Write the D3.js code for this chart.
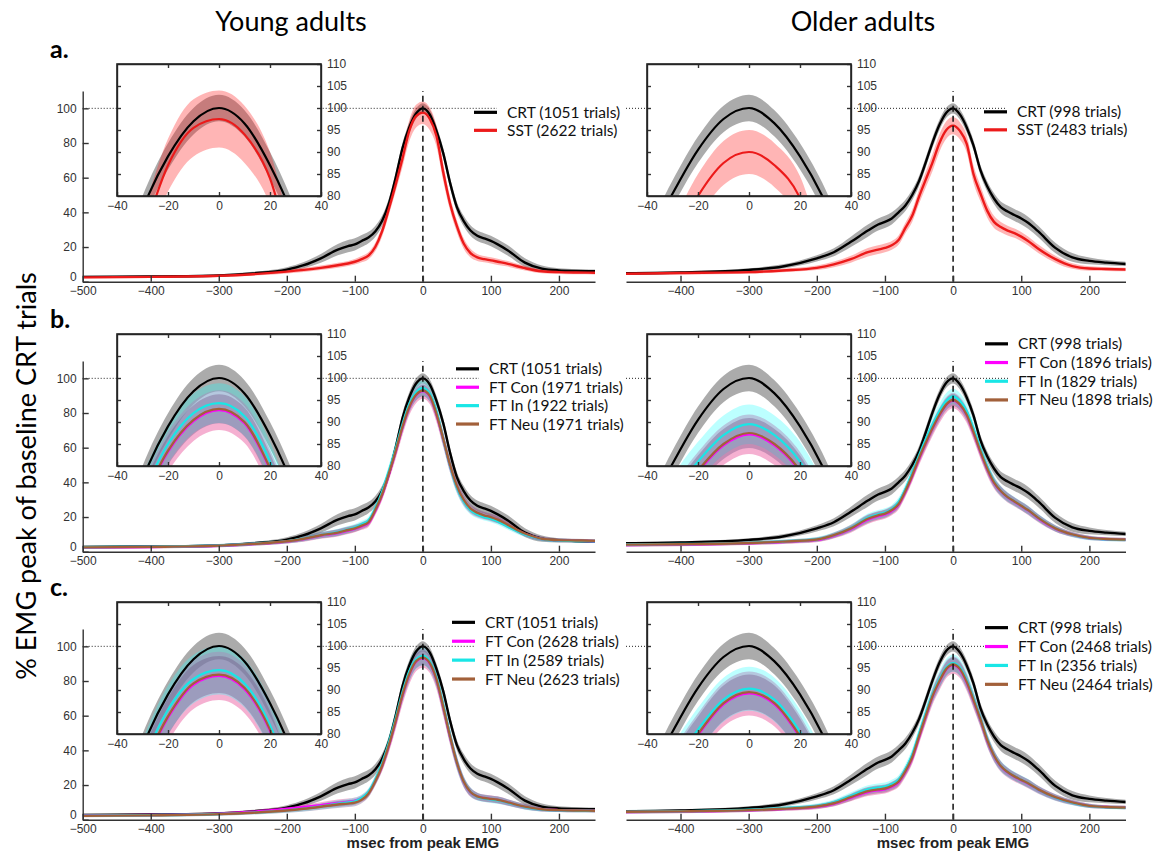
<!DOCTYPE html>
<html>
<head>
<meta charset="utf-8">
<script src="https://cdn.jsdelivr.net/npm/d3@7"></script>
<style>
  body { margin: 0; background: #fff; }
  svg { display: block; }
</style>
</head>
<body>
<svg id="chart" width="1158" height="852"></svg>
<script>
// ── Time grid (msec from peak EMG) ──────────────────────────────────────────
var T = [-500, -400, -300, -250, -200, -175, -150, -125, -110, -100, -90, -80, -70, -60, -50, -40, -30, -20, -10, 0,
         10, 20, 30, 40, 50, 60, 70, 80, 90, 100, 110, 125, 150, 175, 200, 225, 255];

// ── CRT baseline (same in all three rows) ───────────────────────────────────
var crtYoung = [2.8, 3.0, 3.6, 4.8, 7.0, 9.5, 13.5, 18.5, 20.5, 21.5, 23.5, 25.5, 29, 35, 45, 60, 77, 89, 97, 100,
                96.5, 87, 74, 57, 43, 35, 29.5, 26.5, 25, 23.5, 21.5, 18, 11, 7.5, 6.5, 6.2, 6.0];
var ciCrtYoung = [0.6, 0.6, 0.7, 0.9, 1.3, 1.8, 2.5, 3.2, 3.5, 3.5, 3.5, 3.3, 3.2, 3, 3, 3, 3, 3, 3, 3,
                  3, 3, 3, 3, 3, 3, 3, 3, 3, 3, 3, 3, 2.5, 1.8, 1.2, 1, 1];
var crtOld = [4.8, 5.3, 6.8, 8.8, 13.5, 17, 23, 29.5, 33, 34.5, 36.5, 40, 44, 50, 58, 69, 80.5, 90.5, 97.5, 100,
              96.5, 89, 78.5, 64.5, 55, 48, 43, 40.5, 38.5, 36.5, 34, 29, 19.5, 14, 12, 11, 10.2];
var ciCrtOld = [0.8, 0.8, 1, 1.2, 1.8, 2.3, 3, 3.5, 3.5, 3.5, 3.5, 3.3, 3.2, 3, 3, 3, 3, 3, 3, 3,
                3, 3, 3, 3, 3, 3.2, 3.3, 3.5, 3.5, 3.5, 3.5, 3.3, 3, 2.5, 2, 1.5, 1.2];

// ── Row a: SST ──────────────────────────────────────────────────────────────
var sstYoung = [2.5, 2.8, 3.4, 4.3, 5.8, 6.8, 8, 9.5, 10.5, 11.5, 13, 15, 20, 29, 42, 56, 71, 87, 95.5, 97.5,
                94, 84, 63, 45, 32, 22, 16.5, 14, 13, 12.3, 11.5, 10.3, 7.8, 6, 5.5, 5.3, 5.2];
var ciSstYoung = [0.6, 0.6, 0.7, 0.8, 1, 1.2, 1.3, 1.5, 1.5, 1.6, 1.8, 2, 2.5, 3, 3.5, 4, 5, 6, 6.5, 6.5,
                  6.5, 6, 5, 4, 3.5, 3, 2.5, 2, 1.8, 1.8, 1.8, 1.6, 1.3, 1.1, 1, 1, 1];
var sstOld = [4.5, 5, 5.5, 6.5, 8, 10, 13, 17, 18.5, 19.5, 21, 24, 31, 38, 49, 59, 69, 80, 87.5, 90,
              87, 79.5, 62, 51, 41, 34.5, 31.5, 29.5, 28, 26, 23.5, 19, 13, 9, 7.6, 7.3, 7];
var ciSstOld = [0.8, 0.8, 0.9, 1, 1.3, 1.6, 2, 2.5, 2.5, 2.5, 2.5, 2.7, 3, 3.5, 4, 4.5, 5, 5, 5, 5,
                5, 5, 5, 4.5, 4, 3.5, 3, 2.8, 2.7, 2.7, 2.6, 2.4, 2, 1.6, 1.3, 1.1, 1];

// ── Row b: FT (young) ───────────────────────────────────────────────────────
var ftConYoungB = [2.4, 2.7, 3.4, 4.4, 5.9, 7.3, 9.3, 10.8, 12.2, 13.2, 14.6, 16.5, 23.5, 32.5, 44.5, 57.5, 71.7, 83.2, 90.2, 92.7,
                   89.7, 79.2, 64.7, 49.5, 37.5, 29.5, 24.5, 22, 20.6, 19.6, 18.2, 15.2, 10.3, 7.4, 6.5, 6.3, 6];
var ftInYoungB = [2.6, 2.9, 3.6, 4.6, 6.1, 7.6, 9.6, 11.2, 12.8, 14, 15.8, 18, 25, 34.5, 46.5, 59.5, 73.5, 85, 92, 94.3,
                  91.3, 81, 65, 49.5, 37, 29, 24, 21.5, 20, 19, 17.5, 14.5, 10, 7.3, 6.4, 6.2, 6];
var ftNeuYoungB = [2.5, 2.8, 3.5, 4.5, 6, 7.5, 9.5, 11, 12.5, 13.5, 15, 17, 24, 33, 45, 58, 72, 83.5, 90.5, 93,
                   90, 79.5, 65, 50, 38, 30, 25, 22.5, 21, 20, 18.5, 15.5, 10.5, 7.5, 6.7, 6.5, 6.2];
var ciFtYoungB = [0.8, 0.8, 0.9, 1, 1.2, 1.5, 1.8, 2, 2, 2, 2, 2.2, 2.5, 3, 3.5, 4, 4.5, 4.5, 4.5, 4.5,
                  4.5, 4.5, 4.5, 4, 3.5, 3, 2.5, 2.2, 2, 2, 2, 1.8, 1.5, 1.2, 1, 1, 1];
var ciFtNeuYoungB = [0.8, 0.8, 0.9, 1, 1.2, 1.5, 1.8, 2, 2, 2, 2, 2.1, 2.3, 2.6, 2.9, 3.1, 3.3, 3.3, 3.3, 3.3,
                     3.3, 3.3, 3.3, 3.1, 2.9, 2.6, 2.3, 2.1, 2, 2, 2, 1.8, 1.5, 1.2, 1, 1, 1];

// ── Row b: FT (older) ───────────────────────────────────────────────────────
var ftConOldB = [3.8, 4.1, 4.8, 5.6, 6.8, 9.2, 13, 18.5, 20.5, 21.5, 23.5, 27, 34.5, 43.5, 53.5, 62.7, 71.2, 78.7, 84.7, 87.2,
                 84.7, 78.7, 68.7, 57.7, 47.7, 39.7, 34.7, 31.2, 28.7, 26.2, 23.7, 19.2, 13.3, 9.9, 7.9, 7.2, 6.9];
var ftInOldB = [4.1, 4.4, 5.1, 5.9, 7.2, 9.6, 13.6, 19.5, 21.5, 22.5, 24.5, 28.5, 36, 45.5, 55.5, 65, 73.5, 81, 87, 89.5,
                87, 81, 71, 59.5, 49, 40.5, 35, 31.5, 29, 26.5, 24, 19.5, 13.5, 9.8, 7.8, 7.1, 6.8];
var ftNeuOldB = [4, 4.3, 5, 5.8, 7, 9.5, 13.5, 19, 21, 22, 24, 27.5, 35, 44, 54, 63, 71.5, 79, 85, 87.5,
                 85, 79, 69, 58, 48, 40, 35, 31.5, 29, 26.5, 24, 19.5, 13.5, 10, 8, 7.3, 7];
var ciFtOldB = [1, 1, 1, 1.1, 1.3, 1.6, 2, 2.5, 2.5, 2.5, 2.5, 2.7, 3, 3.3, 3.7, 4, 4.3, 4.5, 4.5, 4.5,
                4.5, 4.5, 4.3, 4, 3.7, 3.3, 3, 2.8, 2.6, 2.5, 2.5, 2.2, 1.8, 1.4, 1.2, 1, 1];
var ciFtNeuOldB = [1, 1, 1, 1.1, 1.3, 1.6, 2, 2.4, 2.4, 2.4, 2.4, 2.5, 2.6, 2.8, 3, 3.2, 3.3, 3.4, 3.4, 3.4,
                   3.4, 3.4, 3.3, 3.2, 3, 2.8, 2.6, 2.5, 2.4, 2.4, 2.4, 2.1, 1.8, 1.4, 1.2, 1, 1];

// ── Row c: FT (young) ───────────────────────────────────────────────────────
var ftConYoungC = [2.4, 2.7, 3.5, 4.6, 6.3, 7.3, 8.4, 9.6, 10.2, 10.8, 12.3, 15.5, 22.5, 31, 42.8, 56.7, 71.7, 83.7, 91.2, 93.2,
                   90.2, 80.7, 64.7, 47.7, 32.8, 21.8, 15.8, 13.4, 12.4, 11.9, 11.4, 9.9, 7.4, 6, 5.5, 5.3, 5.2];
var ftInYoungC = [2.3, 2.6, 3.3, 4.1, 5.4, 6.4, 7.7, 9.2, 10, 10.6, 12.5, 16, 23, 32.5, 44.5, 58.5, 73.5, 85.5, 92.5, 94.5,
                  91.5, 82, 66, 48.5, 33, 22, 16, 13.3, 12.2, 11.7, 11.2, 9.8, 7.3, 5.9, 5.4, 5.2, 5.1];
var ftNeuYoungC = [2.2, 2.5, 3.2, 4, 5.3, 6.3, 7.5, 8.8, 9.3, 9.8, 11.5, 15, 22, 31, 43, 57, 72, 84, 91.5, 93.5,
                   90.5, 81, 65, 48, 33, 22, 16, 13.5, 12.5, 12, 11.5, 10, 7.5, 6, 5.5, 5.3, 5.2];
var ciFtYoungC = [0.8, 0.8, 0.9, 1, 1.3, 1.5, 1.7, 2, 2, 2, 2, 2.2, 2.6, 3.2, 4, 4.6, 5.2, 5.5, 5.5, 5.5,
                  5.5, 5.5, 5.2, 4.6, 4, 3.2, 2.6, 2.2, 2, 2, 2, 1.8, 1.5, 1.2, 1, 1, 1];
var ciFtNeuYoungC = [0.8, 0.8, 0.9, 1, 1.3, 1.5, 1.7, 2, 2, 2, 2, 2.1, 2.4, 2.8, 3.3, 3.7, 4, 4.2, 4.2, 4.2,
                     4.2, 4.2, 4, 3.7, 3.3, 2.8, 2.4, 2.1, 2, 2, 2, 1.8, 1.5, 1.2, 1, 1, 1];

// ── Row c: FT (older) ───────────────────────────────────────────────────────
var ftConOldC = [4.4, 4.7, 5.4, 6.2, 7.4, 9.2, 12.6, 16, 17, 17.5, 19, 21.5, 27.5, 35.5, 47.5, 59.7, 71.2, 79.7, 86.7, 89.2,
                 86.7, 79.2, 68.7, 57.7, 45.7, 36.7, 30.7, 27.2, 24.7, 22.7, 20.7, 17.2, 12.8, 9.9, 8, 7.3, 7];
var ftInOldC = [4.6, 4.9, 5.7, 6.6, 8, 10, 13.8, 17.5, 18.5, 19, 20.5, 23, 29, 37.5, 49.5, 61.5, 72.5, 81, 87.8, 90.3,
                87.8, 80.5, 70, 58.5, 46.5, 37, 31, 27.5, 25, 23, 21, 17.3, 12.7, 9.8, 7.9, 7.2, 6.9];
var ftNeuOldC = [4.5, 4.8, 5.5, 6.3, 7.6, 9.5, 13, 16.5, 17.5, 18, 19.5, 22, 28, 36, 48, 60, 71.5, 80, 87, 89.5,
                 87, 79.5, 69, 58, 46, 37, 31, 27.5, 25, 23, 21, 17.5, 13, 10, 8, 7.3, 7];
var ciFtOldC = [1, 1, 1, 1.1, 1.3, 1.6, 2, 2.4, 2.4, 2.4, 2.5, 2.7, 3, 3.4, 3.8, 4.3, 4.7, 5, 5, 5,
                5, 5, 4.7, 4.3, 3.8, 3.4, 3, 2.8, 2.6, 2.5, 2.5, 2.2, 1.8, 1.4, 1.2, 1, 1];
var ciFtNeuOldC = [1, 1, 1, 1.1, 1.3, 1.6, 2, 2.3, 2.3, 2.3, 2.4, 2.5, 2.7, 3, 3.3, 3.6, 3.8, 4, 4, 4,
                   4, 4, 3.8, 3.6, 3.3, 3, 2.7, 2.5, 2.4, 2.4, 2.4, 2.1, 1.8, 1.4, 1.2, 1, 1];

// ── Legend labels ───────────────────────────────────────────────────────────
var legendAYoung = ["CRT (1051 trials)", "SST (2622 trials)"];
var legendAOld   = ["CRT (998 trials)", "SST (2483 trials)"];
var legendBYoung = ["CRT (1051 trials)", "FT Con (1971 trials)", "FT In (1922 trials)", "FT Neu (1971 trials)"];
var legendBOld   = ["CRT (998 trials)", "FT Con (1896 trials)", "FT In (1829 trials)", "FT Neu (1898 trials)"];
var legendCYoung = ["CRT (1051 trials)", "FT Con (2628 trials)", "FT In (2589 trials)", "FT Neu (2623 trials)"];
var legendCOld   = ["CRT (998 trials)", "FT Con (2468 trials)", "FT In (2356 trials)", "FT Neu (2464 trials)"];

var xTicksYoung = [-500, -400, -300, -200, -100, 0, 100, 200];
var xTicksOld   = [-400, -300, -200, -100, 0, 100, 200];
var yTicks      = [0, 20, 40, 60, 80, 100];
var insetXTicks = [-40, -20, 0, 20, 40];
var insetYTicks = [80, 85, 90, 95, 100, 105, 110];

(function () {
  "use strict";

  var TICK_FONT = "'Liberation Sans', Arial, Helvetica, sans-serif";
  var TEXT_FONT = "Lato, 'Open Sans', sans-serif";

  // line colour, band colour and band opacity for each condition
  var C = {
    crt: { line: "#000000", band: "#000000", op: 0.33 },
    sst: { line: "#ec1a1a", band: "#ff1a1a", op: 0.32 },
    con: { line: "#ff00ff", band: "#e8509a", op: 0.45 },
    inn: { line: "#19e6e6", band: "#20ffff", op: 0.30 },
    neu: { line: "#a2603a", band: "#6e4a7e", op: 0.35 }
  };

  var svg = d3.select("#chart");

  // ── Column / row layout ──────────────────────────────────────────────────
  var cols = [
    { dom: [-500, 253], range: [82.7, 595], inset: [117, 321], yAxis: true, ticks: xTicksYoung },
    { dom: [-480, 253], range: [626, 1125.5], inset: [647, 851], yAxis: false, ticks: xTicksOld }
  ];

  function S(kind, mean, ci) { return { kind: kind, mean: mean, ci: ci }; }

  var rows = [
    { off: 0, letter: "a.", letterY: 58, cells: [
      { series: [S("crt", crtYoung, ciCrtYoung), S("sst", sstYoung, ciSstYoung)],
        legend: legendAYoung, textX: 507, firstY: 4, step: 18 },
      { series: [S("crt", crtOld, ciCrtOld), S("sst", sstOld, ciSstOld)],
        legend: legendAOld, textX: 1017, firstY: 3.5, step: 18 }
    ]},
    { off: 270, letter: "b.", letterY: 328, cells: [
      { series: [S("crt", crtYoung, ciCrtYoung), S("con", ftConYoungB, ciFtYoungB),
                 S("inn", ftInYoungB, ciFtYoungB), S("neu", ftNeuYoungB, ciFtNeuYoungB)],
        legend: legendBYoung, textX: 489, firstY: -9.5, step: 18.4 },
      { series: [S("crt", crtOld, ciCrtOld), S("con", ftConOldB, ciFtOldB),
                 S("inn", ftInOldB, ciFtOldB), S("neu", ftNeuOldB, ciFtNeuOldB)],
        legend: legendBOld, textX: 1018, firstY: -34.5, step: 18.7 }
    ]},
    { off: 538, letter: "c.", letterY: 596, cells: [
      { series: [S("crt", crtYoung, ciCrtYoung), S("con", ftConYoungC, ciFtYoungC),
                 S("inn", ftInYoungC, ciFtYoungC), S("neu", ftNeuYoungC, ciFtNeuYoungC)],
        legend: legendCYoung, textX: 485, firstY: -24, step: 18.9 },
      { series: [S("crt", crtOld, ciCrtOld), S("con", ftConOldC, ciFtOldC),
                 S("inn", ftInOldC, ciFtOldC), S("neu", ftNeuOldC, ciFtNeuOldC)],
        legend: legendCOld, textX: 1018, firstY: -18.7, step: 18.9 }
    ]}
  ];

  var clipN = 0;
  function clip(x, y, w, h) {
    var id = "clip" + (clipN++);
    svg.append("clipPath").attr("id", id)
      .append("rect").attr("x", x).attr("y", y).attr("width", w).attr("height", h);
    return "url(#" + id + ")";
  }

  function pts(s) {
    return T.map(function (t, i) { return { t: t, m: s.mean[i], c: s.ci[i] }; });
  }

  function drawCurves(g, series, x, y, lw) {
    var area = d3.area()
      .x(function (d) { return x(d.t); })
      .y0(function (d) { return y(d.m - d.c); })
      .y1(function (d) { return y(d.m + d.c); })
      .curve(d3.curveMonotoneX);
    var line = d3.line()
      .x(function (d) { return x(d.t); })
      .y(function (d) { return y(d.m); })
      .curve(d3.curveMonotoneX);
    series.forEach(function (s) {
      g.append("path").datum(pts(s)).attr("d", area)
        .attr("fill", C[s.kind].band).attr("fill-opacity", C[s.kind].op).attr("stroke", "none");
    });
    series.forEach(function (s) {
      g.append("path").datum(pts(s)).attr("d", line)
        .attr("fill", "none").attr("stroke", C[s.kind].line).attr("stroke-width", lw)
        .attr("stroke-linejoin", "round");
    });
  }

  function styleAxis(ax, size) {
    ax.selectAll("path.domain").attr("stroke", "#333").attr("stroke-width", 1.4);
    ax.selectAll(".tick line").attr("stroke", "#333").attr("stroke-width", 1.4);
    ax.selectAll("text").attr("fill", "#333").style("font-family", TICK_FONT).style("font-size", size + "px");
    ax.attr("font-family", null);
  }

  function drawCell(col, row, cell) {
    var g = svg.append("g");
    var x = d3.scaleLinear().domain(col.dom).range(col.range);
    var y = d3.scaleLinear().domain([0, 110]).range([281.7 + row.off, 91 + row.off]);
    var lineX1 = cell.textX - 33, lineX2 = cell.textX - 10;

    // reference dotted line at 100 %
    g.append("line")
      .attr("x1", col.range[0]).attr("x2", lineX2)
      .attr("y1", y(100)).attr("y2", y(100))
      .attr("stroke", "#222").attr("stroke-width", 1).attr("stroke-dasharray", "1,2");

    // curves
    var cg = g.append("g").attr("clip-path", clip(col.range[0], y(110), col.range[1] - col.range[0], y(0) - y(110) + 3));
    drawCurves(cg, cell.series, x, y, 2.4);

    // vertical dashed line at 0
    g.append("line")
      .attr("x1", x(0)).attr("x2", x(0)).attr("y1", y(0)).attr("y2", y(110))
      .attr("stroke", "#111").attr("stroke-width", 1.5).attr("stroke-dasharray", "6,4");

    // axes (ticks point inwards)
    var xa = g.append("g").attr("transform", "translate(0," + y(0) + ")")
      .call(d3.axisBottom(x).tickValues(col.ticks).tickSize(-6).tickSizeOuter(0).tickPadding(4.5)
        .tickFormat(d3.format("d")));
    styleAxis(xa, 12);
    if (col.yAxis) {
      var ya = g.append("g").attr("transform", "translate(" + col.range[0] + ",0)")
        .call(d3.axisLeft(y).tickValues(yTicks).tickSize(-6).tickSizeOuter(0).tickPadding(6));
      styleAxis(ya, 12);
      ya.selectAll(".tick text").filter(function (d) { return d === 0; }).attr("dy", "-0.1em");
    }

    // inset zoomed on the peak
    var ix = d3.scaleLinear().domain([-40, 40]).range(col.inset);
    var iy = d3.scaleLinear().domain([80, 110]).range([196 + row.off, 64 + row.off]);
    var ig = svg.append("g");
    ig.append("rect").attr("x", col.inset[0]).attr("y", iy(110))
      .attr("width", col.inset[1] - col.inset[0]).attr("height", iy(80) - iy(110))
      .attr("fill", "#fff");
    var icg = ig.append("g").attr("clip-path", clip(col.inset[0], iy(110), col.inset[1] - col.inset[0], iy(80) - iy(110)));
    drawCurves(icg, cell.series, ix, iy, 2.2);

    var ib = ig.append("g").attr("transform", "translate(0," + iy(80) + ")")
      .call(d3.axisBottom(ix).tickValues(insetXTicks).tickSize(-4).tickSizeOuter(0).tickPadding(5));
    styleAxis(ib, 12);
    var it = ig.append("g").attr("transform", "translate(0," + iy(110) + ")")
      .call(d3.axisTop(ix).tickValues(insetXTicks.slice(1, 4)).tickSize(-4).tickSizeOuter(0).tickFormat(""));
    styleAxis(it, 12);
    var il = ig.append("g").attr("transform", "translate(" + col.inset[0] + ",0)")
      .call(d3.axisLeft(iy).tickValues(insetYTicks.slice(1, 6)).tickSize(-4).tickSizeOuter(0).tickFormat(""));
    styleAxis(il, 12);
    var ir = ig.append("g").attr("transform", "translate(" + col.inset[1] + ",0)")
      .call(d3.axisRight(iy).tickValues(insetYTicks).tickSize(-4).tickSizeOuter(0).tickPadding(6));
    styleAxis(ir, 12);
    ig.append("rect").attr("x", col.inset[0]).attr("y", iy(110))
      .attr("width", col.inset[1] - col.inset[0]).attr("height", iy(80) - iy(110))
      .attr("fill", "none").attr("stroke", "#222").attr("stroke-width", 1.6);

    // legend
    var lg = svg.append("g");
    cell.series.forEach(function (s, i) {
      var ly = y(100) + cell.firstY + i * cell.step;
      lg.append("line").attr("x1", lineX1).attr("x2", lineX2).attr("y1", ly).attr("y2", ly)
        .attr("stroke", C[s.kind].line).attr("stroke-width", 3.2);
      lg.append("text").attr("x", cell.textX).attr("y", ly + 5.5)
        .text(cell.legend[i])
        .style("font-family", TEXT_FONT).style("font-size", "15.5px").attr("fill", "#111");
    });
  }

  rows.forEach(function (row) {
    cols.forEach(function (col, ci) { drawCell(col, row, row.cells[ci]); });
    svg.append("text").attr("x", 50).attr("y", row.letterY).text(row.letter)
      .style("font-family", TEXT_FONT).style("font-size", "25px").style("font-weight", "bold");
  });

  // ── Titles and axis labels ─────────────────────────────────────────────
  svg.append("text").attr("x", 291).attr("y", 31).attr("text-anchor", "middle").text("Young adults")
    .style("font-family", TEXT_FONT).style("font-size", "27px");
  svg.append("text").attr("x", 863).attr("y", 31).attr("text-anchor", "middle").text("Older adults")
    .style("font-family", TEXT_FONT).style("font-size", "27px");
  svg.append("text").attr("transform", "translate(36,476) rotate(-90)").attr("text-anchor", "middle")
    .text("% EMG peak of baseline CRT trials")
    .style("font-family", TEXT_FONT).style("font-size", "27px");
  [422.9, 953].forEach(function (cx) {
    svg.append("text").attr("x", cx).attr("y", 848.3).attr("text-anchor", "middle").text("msec from peak EMG")
      .style("font-family", TICK_FONT).style("font-size", "15px").style("font-weight", "bold").attr("fill", "#222");
  });
})();
</script>
</body>
</html>
